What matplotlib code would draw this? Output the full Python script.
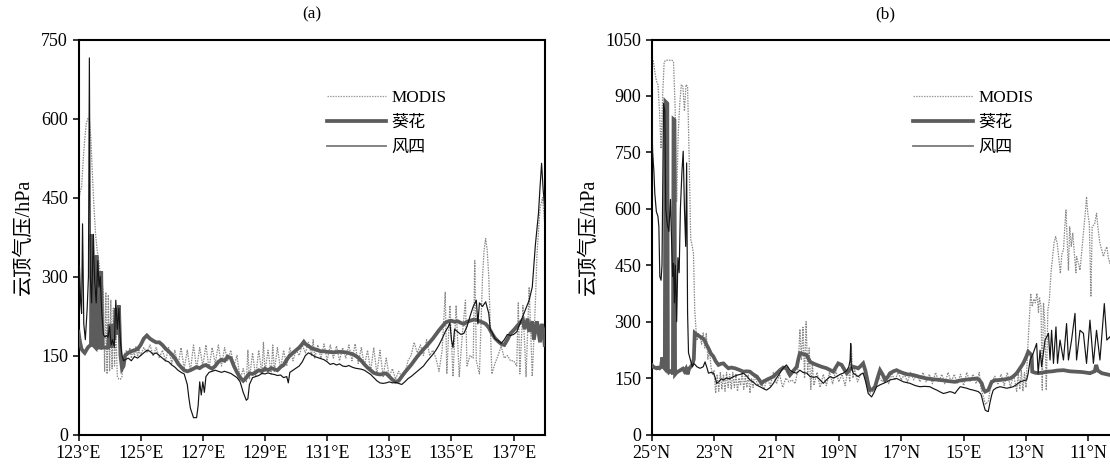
import matplotlib
matplotlib.use("Agg")
import matplotlib.pyplot as plt
from matplotlib.lines import Line2D

plt.rcParams['font.family'] = ['Liberation Serif', 'Noto Sans CJK SC']
plt.rcParams['axes.unicode_minus'] = False

# ---------------- Panel (a): longitude (deg E) vs cloud-top pressure (hPa) ----------------
modis_a = [
    (123.00, 440), (123.05, 460), (123.10, 470), (123.15, 520), (123.20, 560), (123.25, 590),
    (123.30, 600), (123.35, 600), (123.40, 560), (123.45, 490), (123.50, 430), (123.55, 380),
    (123.60, 350), (123.65, 330), (123.70, 305), (123.75, 290), (123.80, 270), (123.84, 120),
    (123.88, 270), (123.92, 115), (123.96, 265), (124.00, 120), (124.04, 255), (124.08, 125),
    (124.12, 240), (124.16, 130), (124.20, 200), (124.25, 110), (124.30, 105), (124.35, 105),
    (124.40, 110), (124.45, 140), (124.50, 155), (124.55, 160), (124.60, 150), (124.65, 165),
    (124.70, 145), (124.75, 160), (124.80, 150), (124.85, 168), (124.90, 148), (124.95, 160),
    (125.00, 150), (125.10, 165), (125.20, 155), (125.30, 170), (125.40, 150), (125.50, 165),
    (125.60, 145), (125.70, 160), (125.80, 140), (125.90, 165), (126.00, 135), (126.10, 160),
    (126.20, 130), (126.30, 165), (126.40, 125), (126.50, 160), (126.60, 120), (126.70, 170),
    (126.80, 125), (126.90, 165), (127.00, 130), (127.10, 170), (127.20, 125), (127.30, 165),
    (127.40, 135), (127.50, 170), (127.60, 130), (127.70, 165), (127.80, 140), (127.90, 160),
    (128.00, 130), (128.10, 150), (128.20, 105), (128.30, 125), (128.40, 100), (128.45, 160),
    (128.50, 105), (128.60, 155), (128.70, 110), (128.80, 160), (128.90, 115), (128.95, 175),
    (129.00, 120), (129.10, 160), (129.20, 115), (129.25, 170), (129.30, 120), (129.40, 165),
    (129.50, 125), (129.60, 160), (129.70, 130), (129.80, 165), (129.90, 140), (130.00, 160),
    (130.10, 150), (130.20, 170), (130.30, 155), (130.40, 175), (130.50, 150), (130.55, 180),
    (130.60, 145), (130.70, 170), (130.80, 145), (130.90, 172), (131.00, 140), (131.10, 170),
    (131.20, 145), (131.30, 168), (131.40, 140), (131.50, 165), (131.60, 145), (131.70, 170),
    (131.80, 140), (131.90, 172), (132.00, 135), (132.10, 165), (132.20, 130), (132.30, 160),
    (132.40, 120), (132.50, 165), (132.60, 115), (132.70, 160), (132.80, 110), (132.90, 145),
    (133.00, 110), (133.10, 125), (133.20, 105), (133.30, 120), (133.40, 110), (133.50, 115),
    (133.60, 140), (133.70, 150), (133.80, 175), (133.90, 155), (134.00, 170), (134.10, 150),
    (134.20, 180), (134.30, 150), (134.40, 160), (134.50, 145), (134.60, 120), (134.70, 160),
    (134.80, 270), (134.85, 115), (134.95, 245), (135.05, 110), (135.15, 245), (135.25, 110),
    (135.35, 190), (135.45, 255), (135.50, 130), (135.60, 150), (135.70, 145), (135.75, 330),
    (135.80, 140), (135.90, 115), (136.00, 300), (136.05, 350), (136.10, 372), (136.15, 350),
    (136.20, 300), (136.30, 115), (136.40, 135), (136.50, 150), (136.60, 168), (136.70, 145),
    (136.80, 150), (136.90, 140), (137.00, 140), (137.10, 130), (137.15, 250), (137.20, 115),
    (137.30, 245), (137.40, 110), (137.50, 280), (137.60, 110), (137.70, 250), (137.75, 340),
    (137.85, 430), (137.93, 450), (138.00, 400),
]

kuihua_a = [
    (123.00, 195), (123.05, 175), (123.10, 162), (123.15, 158), (123.20, 155), (123.25, 160),
    (123.30, 165), (123.35, 168), (123.40, 170), (123.42, 380), (123.47, 170), (123.55, 165),
    (123.58, 340), (123.62, 165), (123.70, 165), (123.73, 310), (123.77, 165), (123.85, 165),
    (123.95, 165), (124.00, 210), (124.05, 165), (124.10, 210), (124.15, 180), (124.20, 240),
    (124.25, 190), (124.30, 245), (124.35, 150), (124.40, 125), (124.45, 130), (124.50, 150),
    (124.60, 155), (124.70, 158), (124.80, 160), (124.90, 162), (125.00, 170), (125.10, 182),
    (125.20, 188), (125.30, 182), (125.40, 178), (125.50, 175), (125.60, 175), (125.70, 170),
    (125.80, 163), (125.90, 158), (126.00, 152), (126.10, 145), (126.20, 135), (126.30, 128),
    (126.40, 122), (126.50, 120), (126.60, 122), (126.70, 125), (126.80, 128), (126.90, 126),
    (127.00, 130), (127.10, 132), (127.20, 128), (127.30, 125), (127.40, 130), (127.50, 138),
    (127.60, 142), (127.70, 140), (127.80, 148), (127.90, 145), (128.00, 130), (128.10, 118),
    (128.20, 108), (128.30, 102), (128.40, 108), (128.50, 116), (128.60, 115), (128.70, 118),
    (128.80, 122), (128.90, 120), (129.00, 125), (129.10, 122), (129.20, 126), (129.30, 124),
    (129.40, 122), (129.50, 128), (129.60, 132), (129.70, 142), (129.80, 150), (129.90, 155),
    (130.00, 160), (130.10, 165), (130.20, 172), (130.25, 176), (130.30, 172), (130.40, 168),
    (130.50, 164), (130.60, 162), (130.70, 160), (130.80, 158), (130.90, 158), (131.00, 157),
    (131.20, 156), (131.40, 157), (131.60, 156), (131.80, 153), (131.90, 150), (132.00, 146),
    (132.10, 140), (132.20, 133), (132.30, 127), (132.40, 122), (132.50, 117), (132.60, 115),
    (132.70, 114), (132.80, 115), (132.90, 116), (133.00, 110), (133.10, 104), (133.20, 100),
    (133.30, 102), (133.40, 110), (133.50, 118), (133.60, 125), (133.70, 132), (133.80, 140),
    (133.90, 148), (134.00, 155), (134.10, 162), (134.20, 168), (134.30, 175), (134.40, 182),
    (134.50, 190), (134.60, 198), (134.70, 205), (134.80, 212), (134.90, 215), (135.00, 216),
    (135.10, 214), (135.20, 215), (135.30, 212), (135.40, 210), (135.50, 214), (135.60, 216),
    (135.70, 218), (135.80, 218), (135.90, 215), (136.00, 213), (136.10, 210), (136.20, 203),
    (136.30, 192), (136.40, 183), (136.50, 177), (136.60, 172), (136.70, 170), (136.80, 180),
    (136.90, 192), (137.00, 198), (137.10, 205), (137.20, 212), (137.30, 218), (137.35, 200),
    (137.45, 220), (137.50, 195), (137.60, 215), (137.65, 180), (137.75, 215), (137.85, 175),
    (137.90, 210), (137.95, 200), (138.00, 170),
]

fengsi_a = [
    (123.00, 300), (123.03, 320), (123.07, 250), (123.10, 230), (123.13, 400), (123.17, 210),
    (123.22, 180), (123.28, 240), (123.32, 300), (123.35, 715), (123.38, 300), (123.42, 250),
    (123.48, 380), (123.52, 290), (123.57, 250), (123.62, 330), (123.66, 280), (123.70, 300),
    (123.75, 230), (123.80, 190), (123.85, 185), (123.90, 188), (123.95, 185), (124.00, 205),
    (124.05, 170), (124.10, 180), (124.15, 165), (124.20, 255), (124.25, 200), (124.30, 240),
    (124.35, 175), (124.40, 150), (124.45, 140), (124.50, 142), (124.60, 145), (124.70, 140),
    (124.80, 148), (124.90, 145), (125.00, 150), (125.10, 155), (125.20, 160), (125.30, 158),
    (125.40, 152), (125.50, 155), (125.60, 150), (125.70, 145), (125.80, 140), (125.90, 138),
    (126.00, 132), (126.10, 128), (126.20, 122), (126.30, 118), (126.40, 115), (126.50, 95),
    (126.55, 70), (126.60, 50), (126.70, 32), (126.80, 32), (126.85, 55), (126.90, 100),
    (126.95, 75), (127.00, 100), (127.05, 80), (127.10, 110), (127.20, 118), (127.30, 120),
    (127.40, 122), (127.50, 120), (127.60, 118), (127.70, 120), (127.80, 118), (127.90, 116),
    (128.00, 112), (128.10, 108), (128.20, 100), (128.30, 80), (128.40, 65), (128.45, 68),
    (128.50, 95), (128.60, 108), (128.70, 110), (128.80, 112), (128.90, 116), (129.00, 115),
    (129.10, 117), (129.20, 115), (129.30, 114), (129.40, 112), (129.50, 113), (129.60, 108),
    (129.70, 110), (129.75, 98), (129.80, 118), (129.90, 122), (130.00, 126), (130.10, 130),
    (130.20, 138), (130.30, 150), (130.40, 155), (130.50, 152), (130.60, 148), (130.70, 146),
    (130.80, 144), (130.90, 142), (131.00, 138), (131.10, 133), (131.20, 135), (131.30, 132),
    (131.40, 134), (131.50, 130), (131.60, 129), (131.70, 131), (131.80, 128), (131.90, 126),
    (132.00, 125), (132.10, 124), (132.20, 122), (132.30, 118), (132.40, 114), (132.50, 108),
    (132.60, 102), (132.70, 98), (132.80, 97), (132.90, 98), (133.00, 100), (133.10, 98),
    (133.20, 99), (133.30, 97), (133.40, 95), (133.50, 100), (133.60, 106), (133.70, 110),
    (133.80, 115), (133.90, 120), (134.00, 125), (134.10, 130), (134.20, 138), (134.30, 145),
    (134.40, 152), (134.50, 160), (134.60, 170), (134.70, 182), (134.80, 195), (134.90, 205),
    (134.95, 212), (135.00, 180), (135.05, 165), (135.10, 200), (135.20, 195), (135.30, 190),
    (135.40, 192), (135.50, 205), (135.60, 225), (135.70, 243), (135.80, 255), (135.85, 210),
    (135.90, 250), (136.00, 243), (136.10, 252), (136.20, 230), (136.25, 198), (136.30, 195),
    (136.40, 182), (136.50, 178), (136.60, 173), (136.70, 180), (136.80, 190), (136.90, 188),
    (137.00, 190), (137.10, 195), (137.20, 210), (137.30, 225), (137.40, 240), (137.50, 255),
    (137.60, 280), (137.65, 320), (137.70, 360), (137.80, 420), (137.85, 470), (137.90, 515),
    (137.95, 465), (138.00, 430),
]

# ---------------- Panel (b): latitude (deg N) vs cloud-top pressure (hPa) ----------------
modis_b = [
    (25.00, 1000), (24.95, 995), (24.90, 965), (24.85, 940), (24.80, 930), (24.75, 860),
    (24.70, 760), (24.65, 900), (24.60, 990), (24.55, 995), (24.50, 995), (24.45, 995),
    (24.40, 995), (24.35, 995), (24.30, 990), (24.25, 870), (24.20, 620), (24.15, 800),
    (24.10, 880), (24.05, 930), (24.00, 925), (23.95, 860), (23.90, 930), (23.85, 925),
    (23.80, 740), (23.75, 520), (23.70, 500), (23.66, 480), (23.62, 330), (23.58, 280),
    (23.55, 250), (23.50, 270), (23.45, 260), (23.40, 240), (23.35, 270), (23.30, 230),
    (23.25, 270), (23.20, 200), (23.15, 230), (23.10, 180), (23.05, 160), (23.00, 170),
    (22.95, 110), (22.90, 160), (22.85, 115), (22.80, 165), (22.75, 120), (22.70, 160),
    (22.65, 115), (22.60, 165), (22.55, 125), (22.50, 160), (22.45, 120), (22.40, 165),
    (22.35, 125), (22.30, 160), (22.25, 115), (22.20, 150), (22.15, 130), (22.10, 165),
    (22.05, 120), (22.00, 155), (21.95, 125), (21.90, 160), (21.85, 110), (21.80, 150),
    (21.75, 125), (21.70, 160), (21.60, 130), (21.50, 140), (21.40, 120), (21.30, 150),
    (21.20, 130), (21.10, 165), (21.00, 135), (20.90, 160), (20.80, 125), (20.70, 150),
    (20.60, 140), (20.50, 145), (20.40, 135), (20.30, 180), (20.25, 280), (20.20, 200),
    (20.15, 285), (20.10, 150), (20.05, 300), (20.00, 160), (19.95, 230), (19.90, 120),
    (19.85, 190), (19.80, 130), (19.70, 165), (19.60, 125), (19.50, 160), (19.40, 130),
    (19.30, 165), (19.20, 135), (19.10, 170), (19.00, 140), (18.90, 160), (18.80, 130),
    (18.70, 175), (18.65, 140), (18.60, 235), (18.55, 150), (18.50, 175), (18.40, 140),
    (18.30, 160), (18.20, 165), (18.10, 130), (18.00, 110), (17.90, 115), (17.80, 135),
    (17.70, 150), (17.60, 140), (17.50, 155), (17.40, 135), (17.30, 160), (17.20, 145),
    (17.10, 165), (17.00, 145), (16.90, 160), (16.80, 140), (16.70, 165), (16.60, 145),
    (16.50, 160), (16.40, 140), (16.30, 165), (16.20, 140), (16.10, 160), (16.00, 135),
    (15.90, 165), (15.80, 140), (15.70, 160), (15.60, 135), (15.50, 165), (15.40, 140),
    (15.30, 160), (15.20, 135), (15.10, 160), (15.00, 130), (14.90, 165), (14.80, 140),
    (14.70, 160), (14.60, 135), (14.50, 165), (14.45, 125), (14.40, 110), (14.35, 95),
    (14.30, 80), (14.25, 85), (14.20, 90), (14.15, 120), (14.10, 140), (14.00, 155),
    (13.90, 135), (13.80, 160), (13.70, 130), (13.60, 165), (13.50, 125), (13.40, 160),
    (13.30, 115), (13.25, 165), (13.20, 120), (13.15, 170), (13.10, 115), (13.05, 165),
    (13.00, 125), (12.95, 220), (12.90, 300), (12.85, 375), (12.80, 340), (12.75, 360),
    (12.70, 350), (12.65, 375), (12.60, 325), (12.57, 365), (12.52, 340), (12.48, 118),
    (12.44, 350), (12.40, 300), (12.35, 118), (12.30, 330), (12.25, 360), (12.20, 430),
    (12.15, 470), (12.10, 510), (12.05, 526), (12.00, 508), (11.95, 470), (11.90, 428),
    (11.85, 480), (11.80, 490), (11.75, 560), (11.72, 597), (11.68, 520), (11.64, 437),
    (11.60, 552), (11.55, 500), (11.50, 535), (11.45, 480), (11.40, 430), (11.38, 473),
    (11.32, 455), (11.27, 437), (11.22, 480), (11.16, 535), (11.10, 590), (11.06, 632),
    (11.02, 588), (10.97, 560), (10.92, 366), (10.88, 552), (10.80, 560), (10.74, 588),
    (10.68, 540), (10.63, 508), (10.57, 490), (10.52, 473), (10.46, 490), (10.41, 499),
    (10.36, 470), (10.31, 455), (10.25, 480),
]

kuihua_b = [
    (25.00, 185), (24.95, 180), (24.90, 178), (24.85, 176), (24.80, 178), (24.75, 176),
    (24.70, 180), (24.66, 205), (24.63, 180), (24.58, 175), (24.56, 885), (24.50, 880),
    (24.48, 170), (24.45, 165), (24.40, 168), (24.35, 170), (24.32, 160), (24.30, 838),
    (24.27, 836), (24.25, 160), (24.20, 165), (24.10, 170), (24.00, 175), (23.95, 168),
    (23.90, 175), (23.85, 160), (23.80, 175), (23.75, 180), (23.70, 185), (23.65, 200),
    (23.62, 270), (23.55, 265), (23.45, 260), (23.35, 255), (23.30, 250), (23.25, 240),
    (23.18, 229), (23.10, 215), (23.02, 207), (22.95, 195), (22.86, 185), (22.78, 188),
    (22.70, 189), (22.62, 182), (22.54, 176), (22.45, 178), (22.33, 176), (22.20, 172),
    (22.06, 167), (21.95, 168), (21.85, 167), (21.75, 160), (21.63, 154), (21.55, 145),
    (21.48, 136), (21.40, 142), (21.32, 145), (21.20, 150), (21.10, 154), (21.00, 162),
    (20.89, 171), (20.78, 178), (20.68, 176), (20.62, 165), (20.57, 158), (20.45, 170),
    (20.35, 180), (20.30, 200), (20.25, 216), (20.15, 214), (20.03, 211), (19.92, 193),
    (19.80, 188), (19.71, 185), (19.55, 180), (19.39, 176), (19.25, 170), (19.18, 167),
    (19.10, 178), (19.02, 189), (18.91, 185), (18.82, 172), (18.75, 163), (18.65, 172),
    (18.54, 180), (18.45, 178), (18.38, 176), (18.30, 182), (18.22, 189), (18.15, 170),
    (18.11, 154), (18.05, 130), (18.00, 118), (17.92, 120), (17.84, 127), (17.76, 150),
    (17.68, 171), (17.60, 160), (17.52, 145), (17.44, 152), (17.36, 163), (17.25, 168),
    (17.15, 171), (17.05, 167), (16.93, 163), (16.80, 160), (16.61, 158), (16.40, 153),
    (16.19, 149), (16.00, 147), (15.76, 145), (15.50, 142), (15.28, 140), (15.15, 143),
    (15.00, 145), (14.80, 147), (14.58, 149), (14.50, 145), (14.42, 136), (14.36, 120),
    (14.31, 114), (14.21, 118), (14.15, 130), (14.10, 140), (14.00, 144), (13.83, 145),
    (13.65, 147), (13.51, 149), (13.40, 155), (13.30, 163), (13.20, 175), (13.09, 189),
    (13.00, 205), (12.93, 220), (12.87, 215), (12.82, 211), (12.80, 167), (12.70, 164),
    (12.60, 163), (12.45, 165), (12.30, 167), (12.15, 168), (12.00, 170), (11.80, 171),
    (11.60, 168), (11.38, 167), (11.20, 166), (10.95, 163), (10.80, 168), (10.75, 185),
    (10.70, 170), (10.57, 163), (10.40, 160), (10.25, 157),
]

fengsi_b = [
    (25.00, 870), (24.97, 750), (24.93, 700), (24.90, 640), (24.85, 592), (24.80, 580),
    (24.77, 552), (24.74, 420), (24.70, 410), (24.67, 450), (24.65, 620), (24.62, 880),
    (24.58, 860), (24.55, 600), (24.50, 560), (24.45, 540), (24.40, 625), (24.36, 508),
    (24.33, 420), (24.30, 455), (24.27, 350), (24.24, 450), (24.20, 300), (24.16, 470),
    (24.12, 430), (24.08, 600), (24.03, 700), (23.99, 753), (23.95, 600), (23.91, 500),
    (23.88, 722), (23.85, 323), (23.82, 217), (23.75, 195), (23.70, 180), (23.66, 189),
    (23.60, 185), (23.55, 180), (23.45, 176), (23.35, 180), (23.29, 193), (23.22, 175),
    (23.18, 163), (23.10, 165), (23.02, 163), (22.96, 150), (22.92, 136), (22.85, 140),
    (22.77, 148), (22.70, 145), (22.60, 150), (22.50, 148), (22.38, 154), (22.25, 158),
    (22.15, 160), (22.06, 163), (21.95, 155), (21.85, 145), (21.75, 140), (21.65, 132),
    (21.53, 127), (21.42, 122), (21.32, 118), (21.20, 125), (21.10, 136), (21.00, 150),
    (20.89, 163), (20.80, 175), (20.68, 185), (20.62, 178), (20.57, 171), (20.45, 165),
    (20.35, 163), (20.25, 171), (20.15, 165), (20.03, 163), (19.92, 154), (19.80, 152),
    (19.71, 154), (19.60, 145), (19.50, 136), (19.40, 145), (19.28, 154), (19.18, 150),
    (19.07, 154), (18.96, 160), (18.86, 163), (18.75, 170), (18.68, 180), (18.64, 198),
    (18.62, 242), (18.60, 180), (18.54, 163), (18.45, 158), (18.38, 154), (18.30, 160),
    (18.22, 163), (18.14, 140), (18.06, 109), (17.95, 100), (17.87, 112), (17.79, 127),
    (17.68, 132), (17.57, 136), (17.46, 140), (17.36, 145), (17.25, 147), (17.15, 149),
    (17.05, 145), (16.93, 140), (16.82, 138), (16.72, 136), (16.55, 130), (16.40, 127),
    (16.25, 128), (16.08, 127), (15.97, 122), (15.86, 118), (15.75, 113), (15.65, 109),
    (15.55, 111), (15.44, 114), (15.35, 112), (15.28, 109), (15.20, 118), (15.11, 127),
    (15.00, 125), (14.90, 123), (14.80, 120), (14.69, 118), (14.53, 114), (14.45, 108),
    (14.42, 100), (14.36, 80), (14.31, 65), (14.25, 62), (14.21, 61), (14.15, 87),
    (14.10, 105), (14.05, 118), (13.95, 124), (13.83, 127), (13.72, 125), (13.62, 123),
    (13.50, 125), (13.41, 127), (13.30, 133), (13.19, 140), (13.08, 143), (12.98, 145),
    (12.93, 163), (12.87, 198), (12.77, 216), (12.66, 242), (12.61, 163), (12.55, 224),
    (12.50, 180), (12.39, 251), (12.28, 269), (12.23, 198), (12.18, 277), (12.12, 189),
    (12.04, 286), (11.99, 189), (11.91, 251), (11.80, 198), (11.70, 295), (11.64, 198),
    (11.54, 251), (11.43, 322), (11.38, 198), (11.27, 277), (11.16, 269), (11.06, 189),
    (10.95, 304), (10.84, 189), (10.74, 277), (10.63, 198), (10.49, 348), (10.41, 251),
    (10.31, 260), (10.25, 240),
]

a_xticks = [123, 125, 127, 129, 131, 133, 135, 137]
a_xticklabels = ['123°E', '125°E', '127°E', '129°E', '131°E', '133°E', '135°E', '137°E']
a_yticks = [0, 150, 300, 450, 600, 750]
b_xticks = [25, 23, 21, 19, 17, 15, 13, 11]
b_xticklabels = ['25°N', '23°N', '21°N', '19°N', '17°N', '15°E', '13°N', '11°N']
b_yticks = [0, 150, 300, 450, 600, 750, 900, 1050]
series_names = ['MODIS', '葵花', '风四']

FS = 13
LFS = 12.3
W, H = 1110, 466
fig = plt.figure(figsize=(W / 100, H / 100), dpi=100)
ax_a = fig.add_axes([78.5 / W, (H - 434.5) / H, 466.2 / W, 395 / H])
ax_b = fig.add_axes([651.7 / W, (H - 434.5) / H, 467.9 / W, 395 / H])

modis_style = dict(color='#8a8a8a', lw=0.9, ls=(0, (1.2, 0.9)))
kuihua_style = dict(color='#5c5c5c', lw=2.7, solid_joinstyle='miter')
fengsi_style = dict(color='#141414', lw=0.85)


def draw(ax, modis, kuihua, fengsi):
    ax.plot(*zip(*modis), zorder=2, **modis_style)
    ax.plot(*zip(*kuihua), zorder=3, **kuihua_style)
    ax.plot(*zip(*fengsi), zorder=4, **fengsi_style)


draw(ax_a, modis_a, kuihua_a, fengsi_a)
draw(ax_b, modis_b, kuihua_b, fengsi_b)

ax_a.set_xlim(123, 138)
ax_a.set_ylim(0, 750)
ax_a.set_xticks(a_xticks)
ax_a.set_xticklabels(a_xticklabels)
ax_a.set_yticks(a_yticks)

ax_b.set_xlim(25, 10)
ax_b.set_ylim(0, 1050)
ax_b.set_xticks(b_xticks)
ax_b.set_xticklabels(b_xticklabels)
ax_b.set_yticks(b_yticks)

legend_handles = [
    Line2D([], [], color='#9a9a9a', lw=0.9, ls=(0, (1.2, 0.9))),
    Line2D([], [], color='#5c5c5c', lw=2.7),
    Line2D([], [], color='#7a7a7a', lw=1.3),
]

for ax, title, lx in ((ax_a, '(a)', 0.532), (ax_b, '(b)', 0.559)):
    for s in ax.spines.values():
        s.set_linewidth(1.5)
        s.set_color('black')
    ax.tick_params(direction='out', length=4.5, width=1.1, labelsize=FS,
                   top=False, right=False, pad=3)
    ax.set_ylabel('云顶气压/hPa', fontsize=14.5, labelpad=5)
    ax.set_title(title, fontsize=LFS, pad=15)
    ax.legend(legend_handles, series_names, loc='upper left', bbox_to_anchor=(lx, 0.872),
              frameon=False, fontsize=LFS, handlelength=3.5, handletextpad=0.3,
              labelspacing=0.52, borderpad=0, borderaxespad=0)

fig.savefig('out.png', dpi=100)
